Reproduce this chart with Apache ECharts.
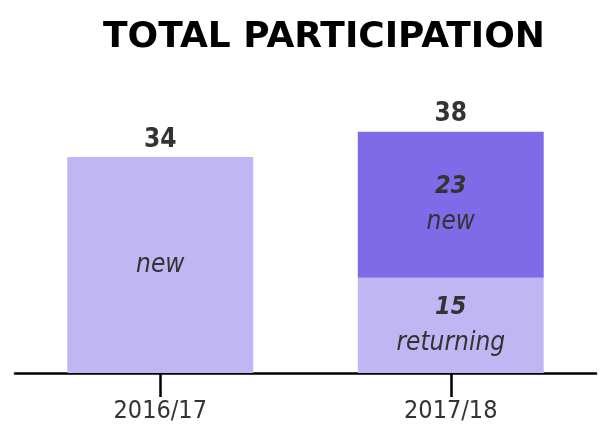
<!DOCTYPE html>
<html>
<head>
<meta charset="utf-8">
<script src="https://cdn.jsdelivr.net/npm/echarts@6/dist/echarts.min.js"></script>
<style>
  html, body { margin: 0; padding: 0; background: #fff; }
  #chart { width: 610px; height: 438px; }
</style>
</head>
<body>
<div id="chart"></div>
<script>
// data
const categories = ['2016/17', '2017/18'];
const lowerValues = [34, 15];      // 2016/17 all new, 2017/18 returning
const upperValues = [null, 23];    // 2017/18 new
const lowerNames = ['new', 'returning'];
const totals = [34, 38];

const lightColor = '#c0b6f4';
const darkColor = '#7f6be8';
const textColor = '#333333';
const condensed = '"Liberation Sans Narrow", "DejaVu Sans Condensed", Roboto, sans-serif';

const chart = echarts.init(document.getElementById('chart'));

const richStyles = {
  num: { fontFamily: condensed, fontSize: 25, fontWeight: 'bold', fontStyle: 'italic', color: textColor, lineHeight: 36 },
  txt: { fontFamily: condensed, fontSize: 26, fontStyle: 'italic', color: textColor, lineHeight: 36 }
};

const option = {
  animation: false,
  title: {
    text: 'TOTAL PARTICIPATION',
    left: 319,
    textAlign: 'center',
    top: 15,
    textStyle: {
      fontFamily: '"DejaVu Sans", sans-serif',
      fontWeight: 'bold',
      fontSize: 36,
      color: '#000'
    }
  },
  grid: { left: 15, right: 14, top: 119, bottom: 65 },
  xAxis: {
    type: 'category',
    data: categories,
    axisLine: { lineStyle: { color: '#000', width: 2.5 } },
    axisTick: { show: true, alignWithLabel: true, length: 24, lineStyle: { color: '#000', width: 2.5 } },
    axisLabel: { margin: 26, fontFamily: condensed, fontSize: 25, color: textColor }
  },
  yAxis: {
    type: 'value',
    min: 0,
    max: 40,
    show: false,
    splitLine: { show: false }
  },
  series: [
    {
      type: 'bar',
      stack: 'total',
      barWidth: '64%',
      data: lowerValues.map(v => ({ value: v, itemStyle: { color: lightColor } })),
      label: {
        show: true,
        position: 'inside',
        formatter: p => p.dataIndex === 0
          ? '{txt|' + lowerNames[0] + '}'
          : '{num|' + p.value + '}\n{txt|' + lowerNames[p.dataIndex] + '}',
        rich: richStyles
      }
    },
    {
      type: 'bar',
      stack: 'total',
      barWidth: '64%',
      data: upperValues.map(v => ({ value: v, itemStyle: { color: darkColor } })),
      label: {
        show: true,
        position: 'inside',
        formatter: p => '{num|' + p.value + '}\n{txt|new}',
        rich: richStyles
      }
    },
    {
      type: 'scatter',
      symbolSize: 0,
      itemStyle: { opacity: 1 },
      data: totals,
      label: {
        show: true,
        position: 'top',
        distance: 4,
        fontFamily: condensed,
        fontSize: 26,
        fontWeight: 'bold',
        color: textColor,
        opacity: 1
      }
    }
  ]
};

chart.setOption(option);
</script>
</body>
</html>
